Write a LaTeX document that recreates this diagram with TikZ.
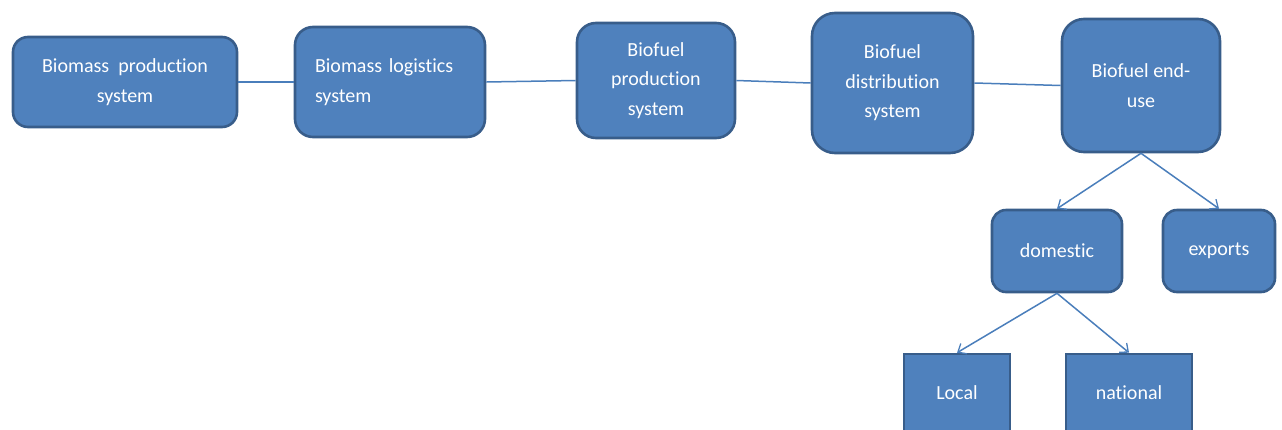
\documentclass[tikz,border=0pt]{standalone}
\usepackage{fontspec}
\setmainfont{Carlito}[Ligatures={NoCommon}]
\usetikzlibrary{arrows.meta}
\definecolor{boxfill}{HTML}{4F81BD}
\definecolor{boxedge}{HTML}{385D8A}
\definecolor{linkcol}{HTML}{4A7EBB}
\tikzset{
  block/.style={draw=boxedge, fill=boxfill, line width=2.6pt, text=white,
    align=center, inner sep=0pt, font=\fontsize{20}{29.5}\selectfont},
  link/.style={draw=linkcol, line width=1.5pt},
  branch/.style={link, -{Straight Barb[length=7pt,width=12pt,line width=1.3pt]}}
}
\begin{document}
\begin{tikzpicture}[x=1pt,y=-1pt]
\useasboundingbox (0,0) rectangle (1282,429);
\clip (0,0) rectangle (1282,429);

% main chain
\node[block, rounded corners=15pt, minimum width=224pt, minimum height=90pt]
  (bprod) at (125,82) {Biomass\ \ production\\system};
\node[block, rounded corners=18pt, minimum width=190pt, minimum height=110pt,
  text width=150pt, align=left]
  (blog) at (390,82) {Biomass logistics\\system};
\node[block, rounded corners=19pt, minimum width=158pt, minimum height=115pt]
  (fprod) at (656,80.5) {Biofuel\\production\\system};
\node[block, rounded corners=23pt, minimum width=161pt, minimum height=140pt]
  (fdist) at (892.5,83) {Biofuel\\distribution\\system};
\node[block, rounded corners=22pt, minimum width=158pt, minimum height=133pt]
  (fuse) at (1141,85.5) {Biofuel end-\\use};

% market split
\node[block, rounded corners=14pt, minimum width=130pt, minimum height=82pt]
  (dom) at (1057,251) {domestic};
\node[block, rounded corners=14pt, minimum width=112pt, minimum height=82pt]
  (exp) at (1219,251) {exports};
\node[block, minimum width=106pt, minimum height=78pt]
  (loc) at (957,393) {Local};
\node[block, minimum width=126pt, minimum height=78pt]
  (nat) at (1129,393) {national};

% connectors
\draw[link] (bprod.east) -- (blog.west);
\draw[link] (blog.east) -- (fprod.west);
\draw[link] (fprod.east) -- (fdist.west);
\draw[link] (fdist.east) -- (fuse.west);

\draw[branch] (fuse.south) -- (dom.north);
\draw[branch] (fuse.south) -- (exp.north);
\draw[branch] (dom.south) -- (loc.north);
\draw[branch] (dom.south) -- (nat.north);
\end{tikzpicture}
\end{document}
